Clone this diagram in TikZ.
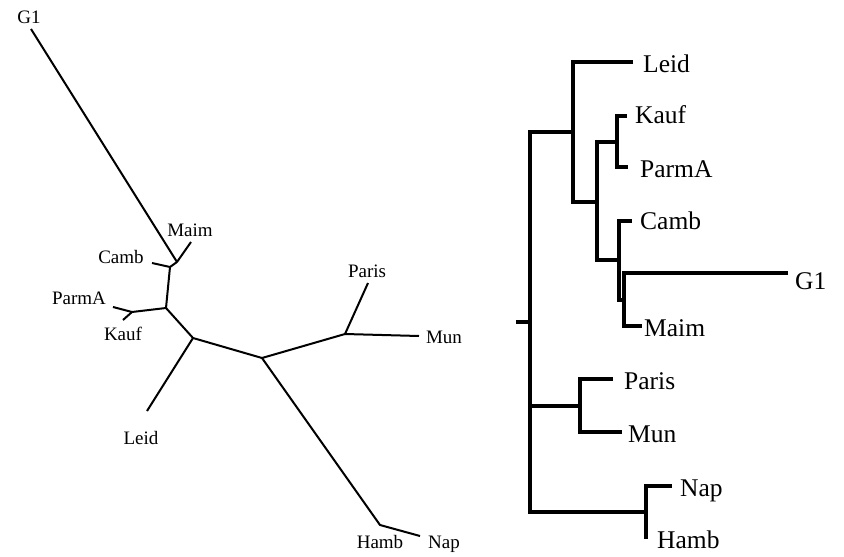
\documentclass[tikz,border=0pt]{standalone}
\usepackage{fontspec}
\setmainfont{Liberation Serif}

\tikzset{
  branch/.style={black, line width=2pt, line join=round},
  clade/.style={black, line width=3.2pt},
  leafL/.style={inner sep=0pt, anchor=base, font=\fontsize{19}{19}\selectfont},
  leafR/.style={inner sep=0pt, anchor=base west, font=\fontsize{25.5}{25.5}\selectfont},
}

\begin{document}
\begin{tikzpicture}[x=1pt,y=-1pt]
        \useasboundingbox (0,0) rectangle (844,557);

        % unrooted tree
        \coordinate (uG1) at (31,29);
        \coordinate (uA) at (177,262);
        \coordinate (uMaim) at (191,242);
        \coordinate (uB) at (170,267);
        \coordinate (uCamb) at (152,263);
        \coordinate (uC) at (166,308);
        \coordinate (uD) at (132,312);
        \coordinate (uParmA) at (113,307);
        \coordinate (uKauf) at (123,320);
        \coordinate (uE) at (193,338);
        \coordinate (uLeid) at (147,411);
        \coordinate (uF) at (262,358);
        \coordinate (uG) at (345,334);
        \coordinate (uParis) at (368,283);
        \coordinate (uMun) at (419,336);
        \coordinate (uH) at (380,525);
        \coordinate (uNap) at (420,536);

        \draw[branch] (uG1) -- (uA) -- (uB) -- (uC) -- (uE) -- (uF) -- (uG) -- (uParis);
        \draw[branch] (uA) -- (uMaim);
        \draw[branch] (uB) -- (uCamb);
        \draw[branch] (uC) -- (uD) -- (uParmA);
        \draw[branch] (uD) -- (uKauf);
        \draw[branch] (uE) -- (uLeid);
        \draw[branch] (uG) -- (uMun);
        \draw[branch] (uF) -- (uH) -- (uNap);

        \node[leafL] (lG1) at (29,23) {G1};
        \node[leafL] (lMaim) at (190,236) {Maim};
        \node[leafL] (lCamb) at (121,263) {Camb};
        \node[leafL] (lParmA) at (79,304) {ParmA};
        \node[leafL] (lKauf) at (123,340) {Kauf};
        \node[leafL] (lLeid) at (141,444) {Leid};
        \node[leafL] (lParis) at (367,277) {Paris};
        \node[leafL] (lMun) at (444,343) {Mun};
        \node[leafL] (lHamb) at (380,548) {Hamb};
        \node[leafL] (lNap) at (444,548) {Nap};

        % rooted tree
        \coordinate (rStub) at (516,322);
        \coordinate (rRoot) at (530,322);
        \coordinate (rA) at (573,132);
        \coordinate (rB) at (597,202);
        \coordinate (rC) at (617,142);
        \coordinate (rD) at (619,260);
        \coordinate (rE) at (624,300);
        \coordinate (rP) at (580,406);
        \coordinate (rN) at (646,512);

        \coordinate (tLeid) at (633,62);
        \coordinate (tKauf) at (627,116);
        \coordinate (tParmA) at (628,167);
        \coordinate (tCamb) at (632,221);
        \coordinate (tG1) at (788,273);
        \coordinate (tMaim) at (642,326);
        \coordinate (tParis) at (613,379);
        \coordinate (tMun) at (622,432);
        \coordinate (tNap) at (672,486);
        \coordinate (tHamb) at (646,539);

        \draw[clade] (rStub) -- (rRoot);
        \draw[clade] (rA) -| (rRoot) |- (rN);
        \draw[clade] (rP) -- (rP -| rRoot);
        \draw[clade] (tLeid) -| (rA) |- (rB);
        \draw[clade] (rC) -| (rB) |- (rD);
        \draw[clade] (tKauf) -| (rC) |- (tParmA);
        \draw[clade] (tCamb) -| (rD) |- (rE);
        \draw[clade] (tG1) -| (rE) |- (tMaim);
        \draw[clade] (tParis) -| (rP) |- (tMun);
        \draw[clade] (tNap) -| (rN) |- (tHamb);

        \node[leafR] (nLeid) at (643,72) {Leid};
        \node[leafR] (nKauf) at (635,123) {Kauf};
        \node[leafR] (nParmA) at (640,177) {ParmA};
        \node[leafR] (nCamb) at (640,229) {Camb};
        \node[leafR] (nG1) at (795,289) {G1};
        \node[leafR] (nMaim) at (644,336) {Maim};
        \node[leafR] (nParis) at (624,389) {Paris};
        \node[leafR] (nMun) at (628,442) {Mun};
        \node[leafR] (nNap) at (680,496) {Nap};
        \node[leafR] (nHamb) at (657,548) {Hamb};

    \end{tikzpicture}
\end{document}
